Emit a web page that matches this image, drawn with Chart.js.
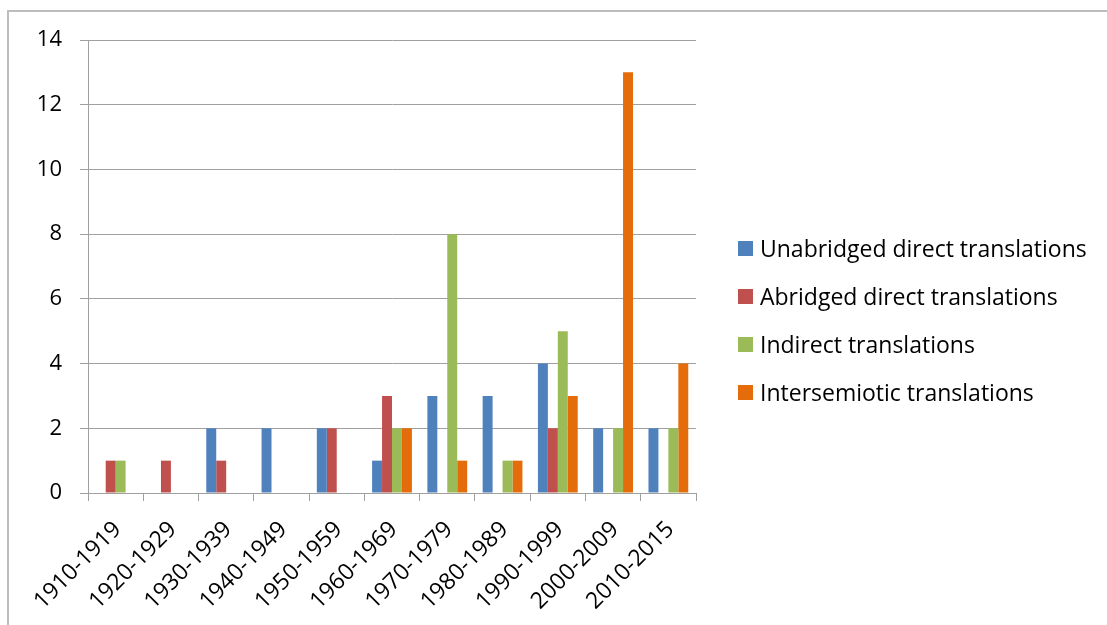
<!DOCTYPE html>
<html>
<head>
<meta charset="utf-8">
<title>Translations by decade</title>
<script src="https://cdn.jsdelivr.net/npm/chart.js@4/dist/chart.umd.min.js"></script>
<style>
    html, body {
        margin: 0;
        padding: 0;
        background: #ffffff;
        overflow: hidden;
        font-family: "Open Sans", "Liberation Sans", sans-serif;
    }
    #frame {
        position: absolute;
        left: 7px;
        top: 10px;
        width: 1300px;
        height: 800px;
        border: 2px solid #bdbdbd;
    }
    #wrap {
        position: absolute;
        left: 0;
        top: 0;
        width: 1107px;
        height: 625px;
    }
    #legend {
        position: absolute;
        left: 738px;
        top: 234px;
        margin: 0;
        padding: 0;
        list-style: none;
    }
    #legend li {
        display: flex;
        align-items: center;
        height: 28px;
        margin-bottom: 20px;
        font-size: 23px;
        color: #000000;
        white-space: nowrap;
    }
    #legend .swatch {
        display: inline-block;
        width: 15px;
        height: 15px;
        margin-right: 7px;
    }
</style>
</head>
<body>
<div id="frame"></div>
<div id="wrap">
    <canvas id="translationsChart" width="1107" height="625"></canvas>
</div>
<ul id="legend"></ul>

<script>
/* ---- data ---- */

const decades = [
    "1910-1919", "1920-1929", "1930-1939", "1940-1949", "1950-1959",
    "1960-1969", "1970-1979", "1980-1989", "1990-1999", "2000-2009", "2010-2015"
];

const unabridgedDirect = [0, 0, 2, 2, 2, 1, 3, 3, 4, 2, 2];
const abridgedDirect   = [1, 1, 1, 0, 2, 3, 0, 0, 2, 0, 0];
const indirect         = [1, 0, 0, 0, 0, 2, 8, 1, 5, 2, 2];
const intersemiotic    = [0, 0, 0, 0, 0, 2, 1, 1, 3, 13, 4];

const seriesNames = [
    "Unabridged direct translations",
    "Abridged direct translations",
    "Indirect translations",
    "Intersemiotic translations"
];

const seriesColors = ["#4f81bd", "#c0504d", "#9bbb59", "#e46c0a"];

const yTicks = [0, 2, 4, 6, 8, 10, 12, 14];

/* ---- chart ---- */

const fontFamily = "'Open Sans', 'Liberation Sans', sans-serif";
const axisGrey = "#a0a0a0";

const allSeries = [unabridgedDirect, abridgedDirect, indirect, intersemiotic];

const datasets = allSeries.map((values, i) => ({
    label: seriesNames[i],
    data: values,
    backgroundColor: seriesColors[i],
    borderWidth: 0,
    categoryPercentage: 0.72,
    barPercentage: 1.0
}));

const chart = new Chart(document.getElementById("translationsChart"), {
    type: "bar",
    data: {
        labels: decades,
        datasets
    },
    options: {
        responsive: false,
        animation: false,
        layout: {
            // right side is left free for the html legend
            padding: { left: 0, top: 40, right: 411, bottom: 0 }
        },
        plugins: {
            tooltip: { enabled: false },
            legend: { display: false }
        },
        scales: {
            x: {
                offset: true,
                grid: {
                    offset: true,
                    drawOnChartArea: false,
                    drawTicks: true,
                    tickLength: 8,
                    color: axisGrey
                },
                border: { color: axisGrey, width: 1 },
                ticks: {
                    color: "#000000",
                    font: { family: fontFamily, size: 23 },
                    minRotation: 45,
                    maxRotation: 45,
                    padding: 15,
                    labelOffset: 2,
                    autoSkip: false
                },
                afterFit: scale => { scale.height = 132; }
            },
            y: {
                min: 0,
                max: 14,
                afterBuildTicks: scale => {
                    scale.ticks = yTicks.map(v => ({ value: v }));
                },
                grid: {
                    color: axisGrey,
                    tickLength: 8
                },
                border: { color: axisGrey, width: 1 },
                ticks: {
                    color: "#000000",
                    font: { family: fontFamily, size: 22 },
                    padding: 18
                },
                afterFit: scale => { scale.width = 88; }
            }
        }
    }
});

/* ---- legend ---- */

const legendList = document.getElementById("legend");

chart.data.datasets.forEach(ds => {
    const item = document.createElement("li");
    const swatch = document.createElement("span");
    swatch.className = "swatch";
    swatch.style.background = ds.backgroundColor;
    item.appendChild(swatch);
    item.appendChild(document.createTextNode(ds.label));
    legendList.appendChild(item);
});
</script>
</body>
</html>
